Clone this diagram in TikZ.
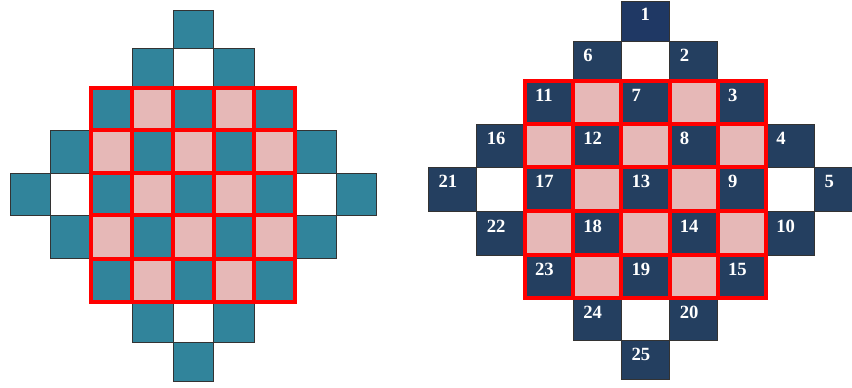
\documentclass[tikz,border=0pt]{standalone}
\usepackage{fontspec}
\setmainfont{Liberation Serif}
\usepackage{xcolor}
\definecolor{tealcell}{HTML}{31849B}
\definecolor{navycell}{HTML}{243F60}
\definecolor{topcell}{HTML}{1F3864}
\definecolor{pinkcell}{HTML}{E6B8B7}
\definecolor{gridred}{HTML}{FF0000}
\tikzset{
  cell/.style={draw=black!80,line width=0.6pt},
  tealbox/.style={cell,fill=tealcell},
  navybox/.style={cell,fill=navycell},
  topbox/.style={cell,fill=topcell},
  pinkbox/.style={fill=pinkcell},
  redgrid/.style={draw=gridred,line width=3pt,line cap=rect},
  numlabel/.style={text=white,font=\fontsize{14}{14}\selectfont\bfseries,inner sep=0pt},
}
% row tops (px) of the two diamonds
\newcommand{\leftrows}{{10.3,48.3,88.5,130.5,173,215,258.8,301.5,342.7,381.7}}
\newcommand{\rightrows}{{1,41,81,124,167.3,211.5,255,298,340,379.3}}

\begin{document}
\begin{tikzpicture}[x=0.75pt,y=-0.75pt]

\useasboundingbox (0,0) rectangle (852,388);
\clip (0,0) rectangle (852,388);

% left diamond
\foreach \r in {0,...,8}{
  \foreach \c in {0,...,8}{
    \pgfmathtruncatemacro\dist{abs(\c-4)+abs(\r-4)}
    \pgfmathtruncatemacro\odd{mod(\r+\c,2)}
    \pgfmathtruncatemacro\ingrid{(\r>1)&&(\r<7)&&(\c>1)&&(\c<7)}
    \pgfmathsetmacro\ytop{\leftrows[\r]}
    \pgfmathsetmacro\ybot{\leftrows[\r+1]}
    \pgfmathsetmacro\xl{10+40.74*\c}
    \ifnum\dist<5
      \ifnum\odd=0
        \path[tealbox] (\xl,\ytop) rectangle (\xl+40.74,\ybot);
      \else\ifnum\ingrid=1
        \path[pinkbox] (\xl,\ytop) rectangle (\xl+40.74,\ybot);
      \fi\fi
    \fi
  }
}
\pgfmathsetmacro\gtop{\leftrows[2]}
\pgfmathsetmacro\gbot{\leftrows[7]}
\draw[redgrid] (10+40.74*2,\gtop) rectangle (10+40.74*7,\gbot);
\foreach \c in {3,...,6}
  \draw[redgrid] (10+40.74*\c,\gtop) -- (10+40.74*\c,\gbot);
\foreach \r in {3,...,6}{
  \pgfmathsetmacro\yr{\leftrows[\r]}
  \draw[redgrid] (10+40.74*2,\yr) -- (10+40.74*7,\yr);
}

% right diamond, numbered
\foreach \r in {0,...,8}{
  \foreach \c in {0,...,8}{
    \pgfmathtruncatemacro\dist{abs(\c-4)+abs(\r-4)}
    \pgfmathtruncatemacro\odd{mod(\r+\c,2)}
    \pgfmathtruncatemacro\ingrid{(\r>1)&&(\r<7)&&(\c>1)&&(\c<7)}
    \pgfmathsetmacro\ytop{\rightrows[\r]}
    \pgfmathsetmacro\ybot{\rightrows[\r+1]}
    \pgfmathsetmacro\xl{428.3+48.25*\c}
    \ifnum\dist<5
      \ifnum\odd=0
        \pgfmathtruncatemacro\num{5*(\r-\c+4)/2+(\r+\c-4)/2+1}
        \ifnum\num=1
          \path[topbox] (\xl,\ytop) rectangle (\xl+48.25,\ybot);
          \node[numlabel] (num\num) at (\xl+24.1,\ytop+13.5) {\num};
        \else
          \path[navybox] (\xl,\ytop) rectangle (\xl+48.25,\ybot);
          \node[numlabel,anchor=west] (num\num) at (\xl+10,\ytop+14.5) {\num};
        \fi
      \else\ifnum\ingrid=1
        \path[pinkbox] (\xl,\ytop) rectangle (\xl+48.25,\ybot);
      \fi\fi
    \fi
  }
}
\pgfmathsetmacro\gtop{\rightrows[2]}
\pgfmathsetmacro\gbot{\rightrows[7]}
\draw[redgrid] (428.3+48.25*2,\gtop) rectangle (428.3+48.25*7,\gbot);
\foreach \c in {3,...,6}
  \draw[redgrid] (428.3+48.25*\c,\gtop) -- (428.3+48.25*\c,\gbot);
\foreach \r in {3,...,6}{
  \pgfmathsetmacro\yr{\rightrows[\r]}
  \draw[redgrid] (428.3+48.25*2,\yr) -- (428.3+48.25*7,\yr);
}

\end{tikzpicture}
\end{document}
